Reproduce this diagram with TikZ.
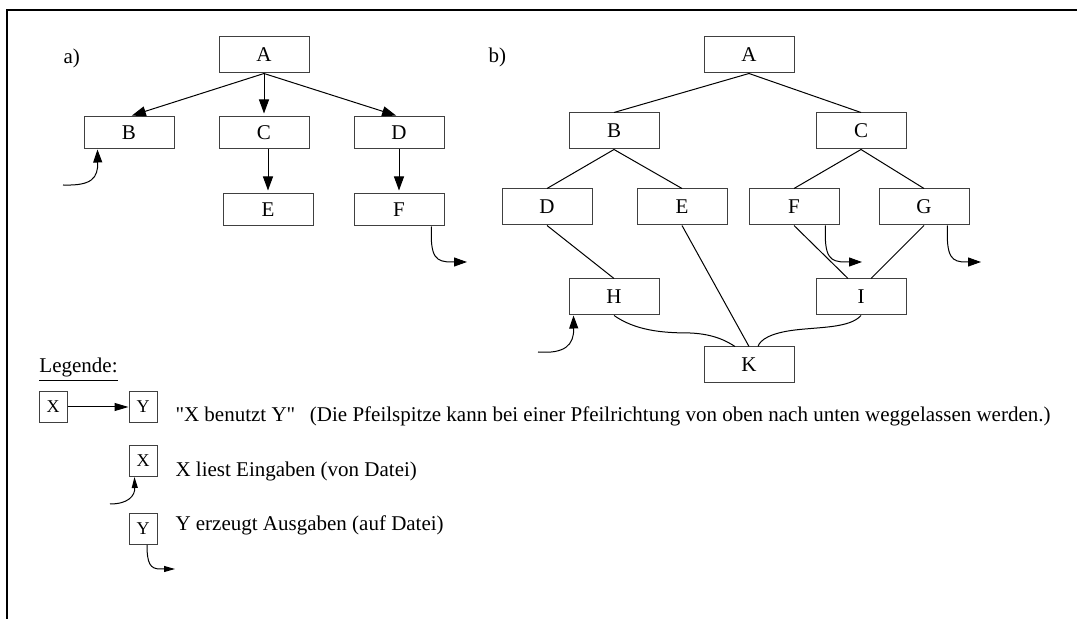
\documentclass[tikz,border=0pt]{standalone}
\usepackage{fontspec}
\setmainfont{Liberation Serif}[Ligatures=TeXOff]
\usetikzlibrary{arrows.meta,calc}
\tikzset{ ka/.style = { rectangle
                       , draw = black!75
                       , inner sep      = 0pt
                       , minimum width  = 45pt
                       , minimum height = 16pt
                       },
          kb/.style = { rectangle
                       , draw = black!75
                       , inner sep      = 0pt
                       , minimum width  = 45pt
                       , minimum height = 18pt
                       },
          kl/.style = { rectangle
                       , draw = black!75
                       , inner sep      = 0pt
                       , minimum width  = 14pt
                       , minimum height = 15.5pt
                       , font = \fontsize{9}{10}\selectfont
                       },
          txt/.style = { anchor = base west
                       , inner sep = 0pt
                       },
          pfeil/.style = { -{Triangle[length=7pt, width=5pt]}
                         , shorten > = 1.5pt
                         },
          io/.style = { -{Triangle[length=6.5pt, width=4.5pt]} },
          iok/.style = { -{Triangle[length=5.5pt, width=3pt]} }
        }

\begin{document}
\begin{tikzpicture}
    [x=0.5pt, y=-0.5pt, line width=0.5pt,
    every node/.style={font=\fontsize{10.5}{12}\selectfont}]
    \useasboundingbox (0,0) rectangle (1077,619);
    % Rahmen
    \draw[line width=1pt] (7,619) -- (7,10) -- (1077,10);

    % a) Baum
    \node[txt] (la) at (63,64) {a)};
    \node[ka, minimum height=18pt] (aA) at (264,55) {A};
    \node[ka] (aB) at (129,133) {B};
    \node[ka] (aC) at (264,133) {C};
    \node[ka] (aD) at (399,133) {D};
    \node[ka] (aE) at (268,210) {E};
    \node[ka] (aF) at (399,210) {F};

    \draw[pfeil] (aA.south) -- (aB.north);
    \draw[pfeil] (aA.south) -- (aC.north);
    \draw[pfeil] (aA.south) -- (aD.north);
    \draw[pfeil] (aC.south -| aE.north) -- (aE.north);
    \draw[pfeil] (aD.south) -- (aF.north);

    \coordinate (inB) at (63,185);
    \draw[io] (inB) .. controls (92,186) and (98,178) .. ($(aB.south west)+(14,0)$);
    \coordinate (outF) at (467,262);
    \draw[io] ($(aF.south east)+(-13,0)$) .. controls (430,258) and (436,262) .. (452,262) -- (outF);

    % b) Graph
    \node[txt] (lb) at (488,63) {b)};
    \node[kb] (bA) at (749,55) {A};
    \node[kb] (bB) at (614,131) {B};
    \node[kb] (bC) at (861,131) {C};
    \node[kb] (bD) at (547,207) {D};
    \node[kb] (bE) at (682,207) {E};
    \node[kb] (bF) at (794,207) {F};
    \node[kb] (bG) at (924,207) {G};
    \node[kb] (bH) at (614,297) {H};
    \node[kb] (bI) at (861,297) {I};
    \node[kb] (bK) at (749,365) {K};

    \draw (bA.south) -- (bB.north);
    \draw (bA.south) -- (bC.north);
    \draw (bB.south) -- (bD.north);
    \draw (bB.south) -- (bE.north);
    \draw (bC.south) -- (bF.north);
    \draw (bC.south) -- (bG.north);
    \draw (bD.south) -- (bH.north);
    \draw (bE.south) -- (bK.north);
    \draw (bF.south) -- ($(bI.north)+(-13,0)$);
    \draw (bG.south) -- ($(bI.north)+(10,0)$);
    \draw (bH.south) .. controls (635,330) and (660,333) .. (690,333)
                     .. controls (715,334) and (728,342) .. ($(bK.north)+(-14,0)$);
    \draw (bI.south) .. controls (850,328) and (820,327) .. (795,330)
                     .. controls (770,333) and (760,340) .. ($(bK.north)+(9,0)$);

    \coordinate (inH) at (538,352);
    \draw[io] (inH) .. controls (565,354) and (574,345) .. ($(bH.south west)+(5,0)$);
    \coordinate (outbF) at (862,262);
    \draw[io] ($(bF.south east)+(-14,0)$) .. controls (824,258) and (830,262) .. (846,262) -- (outbF);
    \coordinate (outG) at (981,262);
    \draw[io] ($(bG.south east)+(-22,0)$) .. controls (946,258) and (952,262) .. (966,262) -- (outG);

    % Legende
    \node[txt] (leg) at (39,373) {\underline{Legende:}};
    \node[kl] (lX) at (53,407) {X};
    \node[kl] (lY) at (143,407) {Y};
    \draw[-{Triangle[length=7pt, width=4pt]}] (lX.east) -- (lY.west);
    \node[txt] (t1) at (175,422) {"X benutzt Y"\hspace{0.7em}(Die Pfeilspitze kann bei einer Pfeilrichtung von oben nach unten weggelassen werden.)};

    \node[kl] (lX2) at (143,461) {X};
    \coordinate (inX) at (110,504);
    \draw[iok] (inX) .. controls (128,504) and (135,496) .. ($(lX2.south west)+(6,0)$);
    \node[txt] (t2) at (175,477) {X liest Eingaben (von Datei)};

    \node[kl] (lY2) at (143,529) {Y};
    \coordinate (outY) at (175,569);
    \draw[iok] ($(lY2.south)+(4,0)$) .. controls (147,563) and (150,569) .. (160,569) -- (outY);
    \node[txt] (t3) at (175,531) {Y erzeugt Ausgaben (auf Datei)};
\end{tikzpicture}
\end{document}
